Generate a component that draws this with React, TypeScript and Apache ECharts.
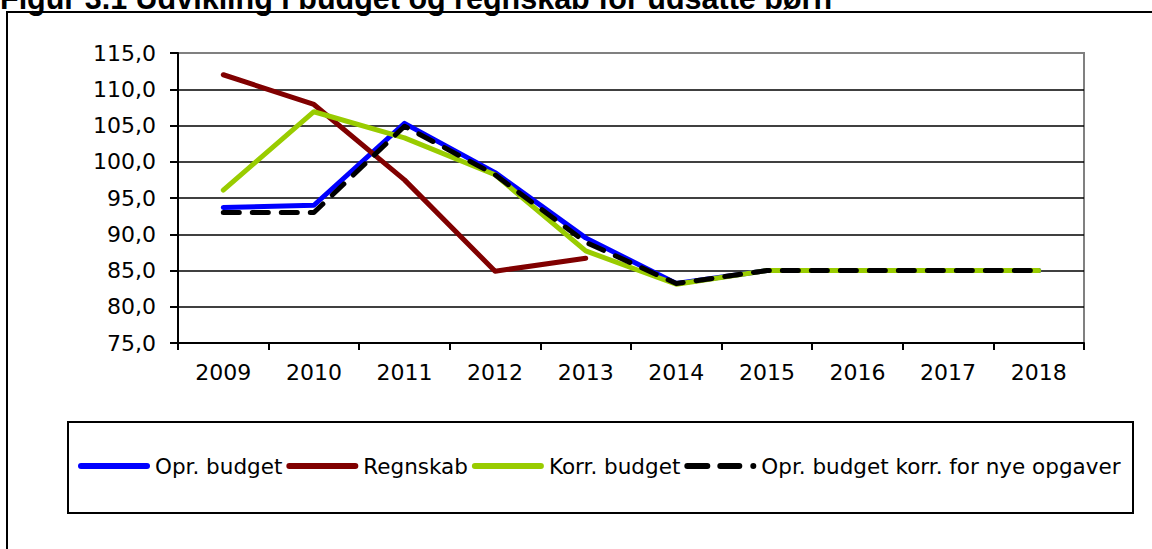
import React, { useEffect, useRef } from "react";
import * as echarts from "echarts";

const titleText = "Figur 3.1 Udvikling i budget og regnskab for udsatte børn";
const years = ["2009", "2010", "2011", "2012", "2013", "2014", "2015", "2016", "2017", "2018"];
const seriesNames = ["Opr. budget", "Regnskab", "Korr. budget", "Opr. budget korr. for nye opgaver"];
const oprBudget = [93.7, 94.0, 105.3, 98.5, 89.5, 83.2, 85.0, 85.0, 85.0, 85.0];
const regnskab = [112.0, 107.9, 97.5, 84.9, 86.7, null, null, null, null, null];
const korrBudget = [96.1, 106.9, 103.3, 98.2, 87.7, 83.1, 85.0, 85.0, 85.0, 85.0];
const oprBudgetKorr = [93.0, 93.0, 104.9, 98.2, 88.9, 83.2, 85.0, 85.0, 85.0, 85.0];
const yMin = 75;
const yMax = 115;
const yInterval = 5;

const FONT = '"DejaVu Sans", Verdana, sans-serif';

const SOLID_ICON =
  "path://M3,0 L69,0 A3,3 0 0 1 69,6 L3,6 A3,3 0 0 1 3,0 Z";
const DASH_ICON =
  "path://M3,0 L23,0 A3,3 0 0 1 23,6 L3,6 A3,3 0 0 1 3,0 Z M36,0 L55,0 A3,3 0 0 1 55,6 L36,6 A3,3 0 0 1 36,0 Z M69,0 A3,3 0 0 1 69,6 A3,3 0 0 1 69,0 Z";

export default function App() {
  const ref = useRef<HTMLDivElement>(null);
  useEffect(() => {
    const chart = echarts.init(ref.current!, null, { renderer: "svg" });
    const lineBase = (color: string) => ({
      type: "line",
      symbol: "none",
      connectNulls: false,
      lineStyle: { color, width: 5, cap: "round", join: "round" },
      itemStyle: { color },
    });
    chart.setOption({
      animation: false,
      backgroundColor: "#fff",
      graphic: [
        {
          type: "rect",
          shape: { x: 7, y: 12, width: 1300, height: 700 },
          style: { fill: "none", stroke: "#000", lineWidth: 2 },
          silent: true,
          z: -10,
        },
        {
          type: "text",
          x: 0,
          y: -2,
          style: {
            text: titleText,
            font: 'bold 30.5px "Liberation Sans", Arial, sans-serif',
            fill: "#000",
            verticalAlign: "middle",
            align: "left",
          },
        },
        {
          type: "rect",
          shape: { x: 68, y: 422, width: 1065, height: 91 },
          style: { fill: "none", stroke: "#000", lineWidth: 2 },
          silent: true,
        },
      ],
      grid: {
        left: 178,
        right: 68,
        top: 53,
        bottom: 206,
        containLabel: false,
        show: true,
        borderColor: "#808080",
        borderWidth: 2,
        backgroundColor: "transparent",
      },
      legend: {
        show: true,
        left: 78,
        top: 455,
        itemWidth: 72,
        itemHeight: 6,
        itemGap: 4,
        padding: 0,
        itemStyle: { borderWidth: 0 },
        data: [
          { name: seriesNames[0], icon: SOLID_ICON },
          { name: seriesNames[1], icon: SOLID_ICON },
          { name: seriesNames[2], icon: SOLID_ICON },
          { name: seriesNames[3], icon: DASH_ICON },
        ],
        textStyle: { fontFamily: FONT, fontSize: 21.5, color: "#000" },
      },
      xAxis: {
        type: "category",
        data: years,
        boundaryGap: true,
        axisLine: { show: true, lineStyle: { color: "#000", width: 2 } },
        axisTick: { show: true, length: 7, inside: false, lineStyle: { color: "#000", width: 2 } },
        axisLabel: { fontFamily: FONT, fontSize: 22, color: "#000", margin: 18, interval: 0 },
        splitLine: { show: false },
      },
      yAxis: {
        type: "value",
        min: yMin,
        max: yMax,
        interval: yInterval,
        axisLine: { show: true, lineStyle: { color: "#000", width: 2 } },
        axisTick: { show: true, length: 8, inside: false, lineStyle: { color: "#000", width: 2 } },
        axisLabel: {
          fontFamily: FONT,
          fontSize: 22,
          color: "#000",
          margin: 22,
          formatter: (v: number) => v.toFixed(1).replace(".", ","),
        },
        splitLine: {
          show: true,
          lineStyle: {
            color: ["#000", "#000", "#000", "#000", "#000", "#000", "#000", "#000", "#808080"],
            width: 1.6,
          },
        },
      },
      series: [
        { ...lineBase("#0000FF"), name: seriesNames[0], data: oprBudget, z: 2 },
        { ...lineBase("#800000"), name: seriesNames[1], data: regnskab, z: 3 },
        { ...lineBase("#99CC00"), name: seriesNames[2], data: korrBudget, z: 4 },
        {
          type: "line",
          name: seriesNames[3],
          data: oprBudgetKorr,
          symbol: "none",
          z: 5,
          lineStyle: { color: "#000", width: 5, type: [16, 13], cap: "round", join: "round" },
          itemStyle: { color: "#000" },
        },
      ],
    });
    return () => chart.dispose();
  }, []);
  return (
    <div
      ref={ref}
      style={{ position: "fixed", left: 0, top: 0, width: 1152, height: 549, background: "#fff" }}
    />
  );
}
